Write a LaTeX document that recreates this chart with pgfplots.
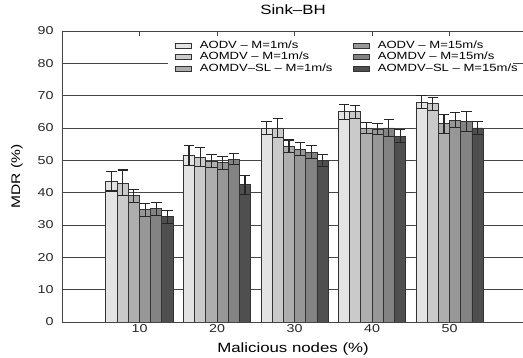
\documentclass[border=0pt]{standalone}
\usepackage{pgfplots}
\pgfplotsset{compat=1.18}
\usepackage{pgfplotstable}
\usepackage{fontspec}
\setmainfont{Liberation Sans}[FakeStretch=1.25]
\definecolor{c1}{HTML}{E3E3E3}
\definecolor{c2}{HTML}{CACACA}
\definecolor{c3}{HTML}{AEAEAE}
\definecolor{c4}{HTML}{979797}
\definecolor{c5}{HTML}{838383}
\definecolor{c6}{HTML}{4F4F4F}
\definecolor{gridc}{HTML}{454545}

\pgfplotstableread{
x y e
0 43.5 3
1 51.5 3
2 60.0 2
3 65.0 2.3
4 68.0 2
}\dataA
\pgfplotstableread{
x y e
0 43.0 4
1 51.0 3
2 60.0 3
3 65.0 2
4 67.5 2
}\dataB
\pgfplotstableread{
x y e
0 39.0 2
1 49.7 2
2 54.3 2
3 60.0 1.8
4 61.3 3
}\dataC
\pgfplotstableread{
x y e
0 34.7 2
1 49.3 2
2 53.5 2
3 59.7 1.8
4 62.4 2.3
}\dataD
\pgfplotstableread{
x y e
0 35.0 2
1 50.3 1.7
2 52.5 2
3 60.0 2.5
4 62.0 3
}\dataE
\pgfplotstableread{
x y e
0 32.5 2
1 42.4 3
2 50.0 1.8
3 57.5 2
4 60.0 2
}\dataF

\pgfplotsset{
  mylegend/.style={legend image code/.code={%
    \draw[##1,/tikz/.cd,line width=0.9bp] (0bp,-2.6bp) rectangle (16bp,2.6bp);
    \path (0bp,0bp) (24bp,0bp);}},
  mybar/.style={fill=#1, draw=black!80, line width=0.9bp, mylegend,
    error bars/.cd, y dir=both, y explicit,
    error bar style={line width=1.1bp, draw=black!85},
    error mark options={rotate=90, mark size=5.2bp, line width=1.1bp, draw=black!85}},
}

\begin{document}
\begin{tikzpicture}
\begin{axis}[
  scale only axis,
  width=462bp, height=291bp,
  ybar=0pt, bar width=11.2bp,
  xmin=-1, xmax=4.96, ymin=0, ymax=90,
  xtick={0,1,2,3,4}, xticklabels={10,20,30,40,50},
  ytick={0,10,...,90},
  tick align=inside, major tick length=5bp,
  tick style={draw=gridc, line width=0.9bp},
  axis line style={draw=gridc, line width=0.9bp},
  ymajorgrids, grid style={draw=gridc, line width=0.9bp},
  /pgf/number format/assume math mode=true,
  tick label style={font=\fontsize{11.5}{13}\selectfont, text=black!85},
  yticklabel style={xshift=-5bp},
  xticklabel style={yshift=1.5bp},
  title={Sink--BH},
  title style={font=\fontsize{13.5}{15}\selectfont, at={(axis description cs:0.5,1)}, anchor=base, yshift=10.5bp},
  xlabel={Malicious nodes (\%)},
  xlabel style={font=\fontsize{13.5}{15}\selectfont, at={(axis description cs:0.5,0)}, anchor=base, yshift=-31bp},
  ylabel={MDR (\%)},
  ylabel style={font=\fontsize{12.5}{15}\selectfont, at={(axis description cs:-0.0974,0.5)}, anchor=center, rotate=0},
  legend columns=3, transpose legend,
  legend style={at={(axis description cs:0.229,0.978)}, anchor=north west,
    draw=none, fill=white, inner xsep=7bp, inner ysep=3bp,
    font=\fontsize{10.5}{11}\selectfont,
    nodes={inner xsep=0bp, inner ysep=0bp, text height=7.5bp, text depth=2.5bp},
    row sep=1.5bp, cells={anchor=west}},
]
\addplot[mybar=c1] table[x=x,y=y,y error=e]{\dataA};
\addlegendentry{\makebox[153bp][l]{AODV -- M=1m/s}}
\addplot[mybar=c2] table[x=x,y=y,y error=e]{\dataB};
\addlegendentry{\makebox[153bp][l]{AOMDV -- M=1m/s}}
\addplot[mybar=c3] table[x=x,y=y,y error=e]{\dataC};
\addlegendentry{\makebox[153bp][l]{AOMDV--SL -- M=1m/s}}
\addplot[mybar=c4] table[x=x,y=y,y error=e]{\dataD};
\addlegendentry{\makebox[128bp][l]{AODV -- M=15m/s}}
\addplot[mybar=c5] table[x=x,y=y,y error=e]{\dataE};
\addlegendentry{\makebox[128bp][l]{AOMDV -- M=15m/s}}
\addplot[mybar=c6] table[x=x,y=y,y error=e]{\dataF};
\addlegendentry{\makebox[128bp][l]{AOMDV--SL -- M=15m/s}}
\end{axis}
\pgfresetboundingbox
\path ([shift={(-62bp,-36bp)}]current axis.south west) rectangle ([shift={(-1bp,31bp)}]current axis.north east);
\end{tikzpicture}
\end{document}
